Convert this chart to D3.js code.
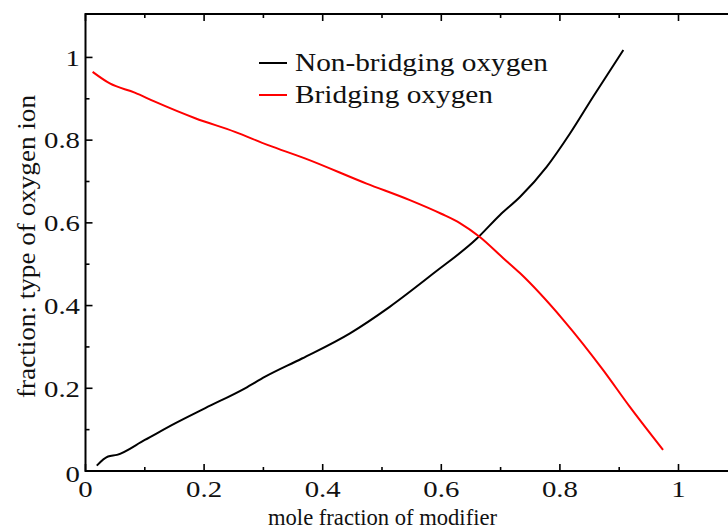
<!DOCTYPE html>
<html>
<head>
<meta charset="utf-8">
<script src="https://cdn.jsdelivr.net/npm/d3@7"></script>
<style>
  html, body { margin: 0; padding: 0; background: #fff; }
  svg { display: block; }
</style>
</head>
<body>
<svg id="chart" width="728" height="529"></svg>
<script>
// ---- data ----
const nonBridgingX = [0.019, 0.038, 0.053, 0.100, 0.151, 0.202, 0.269, 0.303, 0.365, 0.446, 0.513, 0.587, 0.660, 0.699, 0.733, 0.778, 0.817, 0.856, 0.907];
const nonBridgingY = [0.013, 0.035, 0.039, 0.075, 0.115, 0.152, 0.200, 0.228, 0.272, 0.333, 0.397, 0.478, 0.562, 0.619, 0.663, 0.736, 0.816, 0.905, 1.018];
const bridgingX = [0.012, 0.041, 0.083, 0.117, 0.185, 0.252, 0.308, 0.370, 0.474, 0.547, 0.600, 0.632, 0.665, 0.705, 0.733, 0.806, 0.873, 0.918, 0.974];
const bridgingY = [0.965, 0.937, 0.915, 0.893, 0.853, 0.820, 0.788, 0.756, 0.695, 0.655, 0.622, 0.599, 0.566, 0.514, 0.478, 0.365, 0.244, 0.155, 0.051];
const xTicks = [0, 0.2, 0.4, 0.6, 0.8, 1];
const xTickLabels = ["0", "0.2", "0.4", "0.6", "0.8", "1"];
const yTicks = [0, 0.2, 0.4, 0.6, 0.8, 1];
const yTickLabels = ["0", "0.2", "0.4", "0.6", "0.8", "1"];
const seriesNames = ["Non-bridging oxygen", "Bridging oxygen"];
const seriesColors = ["#000000", "#ff0000"];
const xTitle = "mole fraction of modifier";
const yTitle = "fraction: type of oxygen ion";

// ---- layout ----
const FONT = "Liberation Serif";
const svg = d3.select("#chart");
const mLeft = 85.5, mBottom = 471, mTop = 14;
const xMax = 1.1, yMax = 1.105;
const x = d3.scaleLinear().domain([0, xMax]).range([mLeft, mLeft + 593 * xMax]);
const y = d3.scaleLinear().domain([0, yMax]).range([mBottom, mTop]);

const minorX = [0.1, 0.3, 0.5, 0.7, 0.9, 1.1];
const minorY = [0.1, 0.3, 0.5, 0.7, 0.9];

const g = svg.append("g");
g.append("path")
  .attr("d", `M${x(xMax) + 5},${y(yMax)}H${x(0)}V${y(0)}H${x(xMax) + 5}`)
  .attr("fill", "none").attr("stroke", "#000").attr("stroke-width", 2);

const tickG = g.append("g").attr("stroke", "#000").attr("stroke-width", 1.6);
xTicks.forEach(v => {
  tickG.append("line").attr("x1", x(v)).attr("x2", x(v)).attr("y1", y(0)).attr("y2", y(0) - 7);
  tickG.append("line").attr("x1", x(v)).attr("x2", x(v)).attr("y1", y(yMax)).attr("y2", y(yMax) + 7);
});
minorX.forEach(v => {
  tickG.append("line").attr("x1", x(v)).attr("x2", x(v)).attr("y1", y(0)).attr("y2", y(0) - 4);
  tickG.append("line").attr("x1", x(v)).attr("x2", x(v)).attr("y1", y(yMax)).attr("y2", y(yMax) + 4);
});
yTicks.forEach(v => {
  tickG.append("line").attr("x1", x(0)).attr("x2", x(0) + 7).attr("y1", y(v)).attr("y2", y(v));
});
minorY.forEach(v => {
  tickG.append("line").attr("x1", x(0)).attr("x2", x(0) + 4).attr("y1", y(v)).attr("y2", y(v));
});

const fs = 24, sx = 1.2;
xTicks.forEach((v, i) => {
  g.append("text").attr("transform", `translate(${x(v)},497) scale(${sx},1)`)
    .attr("font-family", FONT)
    .attr("text-anchor", "middle").attr("font-size", fs).attr("fill", "#111").text(xTickLabels[i]);
});
yTicks.forEach((v, i) => {
  const dy = v === 0 ? 10.7 : 8.3;
  g.append("text").attr("transform", `translate(${x(0) - 5.5},${y(v) + dy}) scale(${sx},1)`)
    .attr("font-family", FONT)
    .attr("text-anchor", "end").attr("font-size", fs).attr("fill", "#111").text(yTickLabels[i]);
});

g.append("text").attr("x", 268).attr("y", 525).attr("font-family", FONT)
  .attr("font-size", 23).attr("textLength", 229).attr("lengthAdjust", "spacingAndGlyphs")
  .attr("fill", "#111").text(xTitle);
g.append("text").attr("transform", "translate(35,246.5) rotate(-90)").attr("font-family", FONT)
  .attr("text-anchor", "middle").attr("font-size", 25)
  .attr("textLength", 303).attr("lengthAdjust", "spacingAndGlyphs")
  .attr("fill", "#111").text(yTitle);

const line = d3.line().x(d => x(d[0])).y(d => y(d[1])).curve(d3.curveMonotoneX);
const series = [
  d3.zip(nonBridgingX, nonBridgingY),
  d3.zip(bridgingX, bridgingY)
];
series.forEach((s, i) => {
  g.append("path").datum(s).attr("d", line)
    .attr("fill", "none").attr("stroke", seriesColors[i])
    .attr("stroke-width", 2).attr("stroke-linejoin", "round");
});

const legendLens = [253, 198];
seriesNames.forEach((name, i) => {
  const ly = 63 + i * 32;
  g.append("line").attr("x1", 259).attr("x2", 287).attr("y1", ly).attr("y2", ly)
    .attr("stroke", seriesColors[i]).attr("stroke-width", 2);
  g.append("text").attr("x", 295).attr("y", ly + 7.5).attr("font-family", FONT).attr("font-size", 26)
    .attr("textLength", legendLens[i]).attr("lengthAdjust", "spacingAndGlyphs")
    .attr("fill", "#111").text(name);
});
</script>
</body>
</html>
